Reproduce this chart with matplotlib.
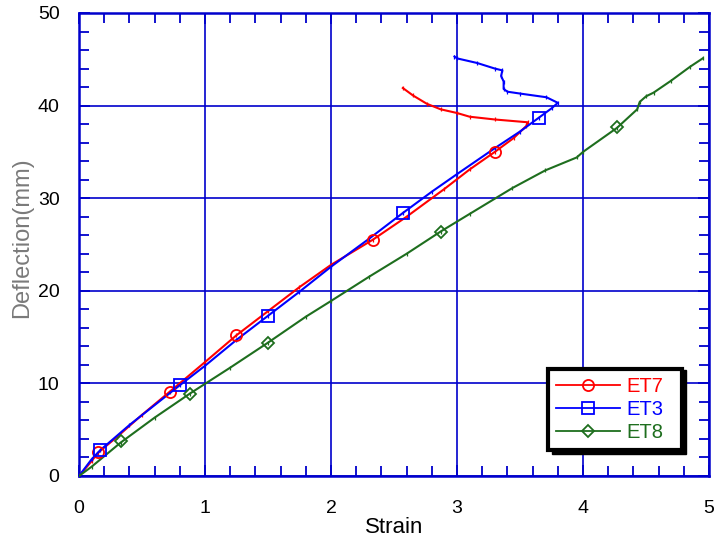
import matplotlib
matplotlib.use("Agg")
import matplotlib.pyplot as plt
from matplotlib.patches import Rectangle
from matplotlib.ticker import MultipleLocator

# ---- data ----
et7_x = [0, 0.1, 0.15, 0.3, 0.5, 0.72, 1.0, 1.25, 1.5, 1.75, 2.0, 2.33, 2.6, 2.9, 3.1, 3.3, 3.45, 3.55, 3.56,
         3.3, 3.1, 3.0, 2.87, 2.76, 2.65, 2.57]
et7_y = [0, 1.6, 2.5, 4.2, 6.6, 9.1, 12.3, 15.2, 17.8, 20.4, 22.8, 25.5, 28.0, 31.0, 33.1, 35.0, 36.5, 37.8, 38.2,
         38.5, 38.8, 39.2, 39.6, 40.2, 41.1, 41.9]
et7_mx = [0.15, 0.72, 1.25, 2.33, 3.3]
et7_my = [2.6, 9.1, 15.2, 25.5, 35.0]

et3_x = [0, 0.1, 0.17, 0.4, 0.8, 1.0, 1.25, 1.5, 1.75, 2.0, 2.3, 2.57, 2.8, 3.0, 3.3, 3.5, 3.65, 3.75, 3.8,
         3.71, 3.5, 3.40, 3.37, 3.37, 3.35, 3.36, 3.30, 3.16, 3.0, 2.98]
et3_y = [0, 1.8, 2.8, 5.5, 9.8, 11.9, 14.7, 17.3, 19.9, 22.6, 25.6, 28.4, 30.7, 32.6, 35.4, 37.2, 38.7, 39.7, 40.3,
         40.9, 41.3, 41.5, 41.8, 42.6, 43.2, 43.8, 44.0, 44.6, 45.1, 45.3]
et3_mx = [0.17, 0.8, 1.5, 2.57, 3.65]
et3_my = [2.8, 9.8, 17.3, 28.4, 38.7]

et8_x = [0, 0.1, 0.33, 0.6, 0.88, 1.2, 1.5, 1.8, 2.0, 2.3, 2.6, 2.87, 3.1, 3.44, 3.7, 3.95, 4.0, 4.27, 4.43,
         4.45, 4.5, 4.56, 4.7, 4.85, 4.95]
et8_y = [0, 1.0, 3.6, 6.3, 8.9, 11.7, 14.4, 17.2, 18.9, 21.5, 24.0, 26.4, 28.3, 31.1, 33.0, 34.4, 35.0, 37.6, 39.6,
         40.4, 41.0, 41.4, 42.7, 44.2, 45.1]
et8_mx = [0.33, 0.88, 1.5, 2.87, 4.27]
et8_my = [3.8, 8.9, 14.4, 26.4, 37.7]

labels = ["ET7", "ET3", "ET8"]
x_ticks = [0, 1, 2, 3, 4, 5]
y_ticks = [0, 10, 20, 30, 40, 50]

# ---- style ----
RED = "#ff0000"
BLUE = "#0000ff"
GREEN = "#1e6e1e"
AXC = "#0000cc"
plt.rcParams['font.family'] = ['Liberation Sans', 'DejaVu Sans']

fig = plt.figure(figsize=(7.18, 5.37), dpi=100)
ax = fig.add_axes([0.110, 0.1136, 0.8775, 0.8622])

series = [
    (et7_x, et7_y, et7_mx, et7_my, RED, 'o'),
    (et3_x, et3_y, et3_mx, et3_my, BLUE, 's'),
    (et8_x, et8_y, et8_mx, et8_my, GREEN, 'D'),
]
handles = []
for (xs, ys, mx, my, c, m), lab in zip(series, labels):
    ax.plot(xs, ys, color=c, lw=1.5, zorder=3)
    ax.plot(xs, ys, color=c, lw=0, marker='|', ms=3.5, mew=0.9, zorder=3)
    ax.plot(mx, my, color=c, lw=0, marker=m, ms=8 if m != 'D' else 6, mfc='none', mec=c, mew=1.3, zorder=4)
    h, = ax.plot([], [], color=c, lw=1.3, marker=m, ms=8 if m != 'D' else 6, mfc='none', mec=c, mew=1.3, label=lab)
    handles.append(h)

ax.set_xlim(0, 5)
ax.set_ylim(0, 50)
ax.set_xticks(x_ticks)
ax.set_yticks(y_ticks)
ax.xaxis.set_minor_locator(MultipleLocator(0.2))
ax.yaxis.set_minor_locator(MultipleLocator(2))
ax.grid(True, which='major', color=AXC, lw=1.2, zorder=1)
for s in ax.spines.values():
    s.set_color(AXC)
    s.set_linewidth(1.8)
ax.tick_params(which='both', direction='in', top=True, right=True, color=AXC, width=1.3,
               labelsize=14, labelcolor='black')
ax.tick_params(which='major', length=8)
ax.tick_params(axis='x', which='major', pad=17)
ax.tick_params(axis='y', which='major', pad=14)
ax.tick_params(which='minor', length=7)

ax.set_xlabel("Strain", fontsize=16, labelpad=0)
ax.set_ylabel("Deflection(mm)", fontsize=17, color='#7a7a7a')
ax.yaxis.set_label_coords(-0.072, 0.515)

# legend with black drop shadow
lx0, ly0, lw_, lh = 0.744, 0.056, 0.213, 0.182
shadow = Rectangle((lx0 + 0.006, ly0 - 0.009), lw_, lh, transform=ax.transAxes,
                   facecolor='black', edgecolor='black', zorder=5, clip_on=False)
ax.add_patch(shadow)
leg = ax.legend(handles=handles, loc='lower left', bbox_to_anchor=(lx0, ly0, lw_, lh), mode='expand',
                fontsize=14.5, handlelength=3.2, handletextpad=0.3, labelspacing=0.2,
                borderaxespad=0, fancybox=False, framealpha=1, edgecolor='black',
                labelcolor='linecolor')
leg.get_frame().set_linewidth(3)
leg.set_zorder(6)

fig.savefig("out.png", dpi=100)
